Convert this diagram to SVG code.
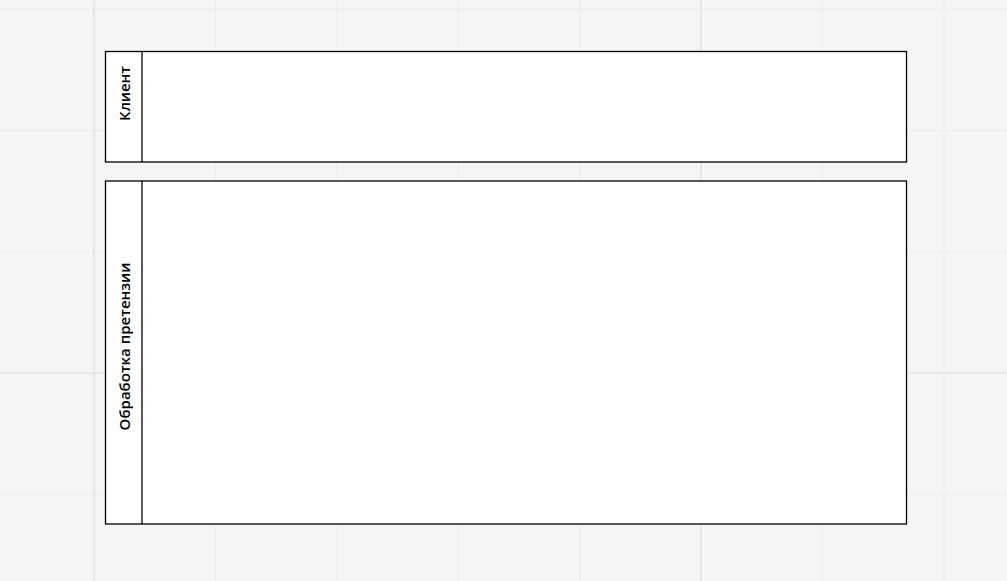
<svg xmlns="http://www.w3.org/2000/svg" width="1007" height="581" viewBox="0 0 1007 581">
<style>
.g{stroke:#ebebeb;stroke-width:1}
.gm{stroke:#e6e6e6;stroke-width:2}
.pool{fill:#fff;stroke:#000;stroke-width:1.3}
.lbl{font-family:"Open Sans","Liberation Sans",sans-serif;font-size:15px;font-weight:600;fill:#000;text-anchor:middle}
</style>
<rect width="1007" height="581" fill="#f5f5f5"/>
<g id="grid">
<line class="g" x1="215.5" y1="0" x2="215.5" y2="581"/>
<line class="g" x1="337" y1="0" x2="337" y2="581"/>
<line class="g" x1="458.5" y1="0" x2="458.5" y2="581"/>
<line class="g" x1="580" y1="0" x2="580" y2="581"/>
<line class="g" x1="822.5" y1="0" x2="822.5" y2="581"/>
<line class="g" x1="944" y1="0" x2="944" y2="581"/>
<line class="g" x1="0" y1="9" x2="1007" y2="9"/>
<line class="g" x1="0" y1="130.5" x2="1007" y2="130.5"/>
<line class="g" x1="0" y1="252" x2="1007" y2="252"/>
<line class="g" x1="0" y1="494.5" x2="1007" y2="494.5"/>
<line class="gm" x1="94" y1="0" x2="94" y2="581"/>
<line class="gm" x1="701" y1="0" x2="701" y2="581"/>
<line class="gm" x1="0" y1="373" x2="1007" y2="373"/>
</g>
<g id="pool-client">
<rect class="pool" x="105.5" y="51.5" width="801" height="110.5"/>
<line stroke="#000" stroke-width="1.3" x1="142" y1="51.5" x2="142" y2="162"/>
<text class="lbl" transform="translate(129.5,93.5) rotate(-90)">Клиент</text>
</g>
<g id="pool-processing">
<rect class="pool" x="105.5" y="181" width="801" height="343"/>
<line stroke="#000" stroke-width="1.3" x1="142" y1="181" x2="142" y2="524"/>
<text class="lbl" transform="translate(129.5,346.5) rotate(-90)">Обработка претензии</text>
</g>
<g id="connectors"/>
</svg>
